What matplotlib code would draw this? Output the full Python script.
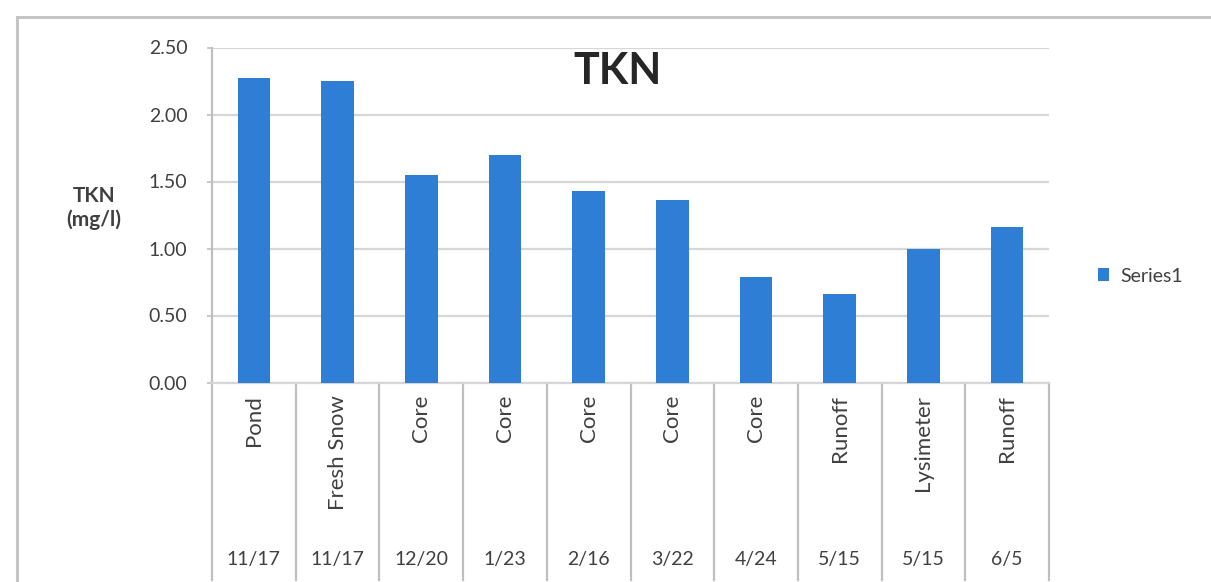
import matplotlib
matplotlib.use("Agg")
import matplotlib.pyplot as plt
from matplotlib.patches import Rectangle
import matplotlib.transforms as mtransforms

# Sample data: TKN concentration by sample type and date
sample_types = ["Pond", "Fresh Snow", "Core", "Core", "Core", "Core", "Core",
                "Runoff", "Lysimeter", "Runoff"]
sample_dates = ["11/17", "11/17", "12/20", "1/23", "2/16", "3/22", "4/24",
                "5/15", "5/15", "6/5"]
tkn_values = [2.27, 2.25, 1.55, 1.70, 1.43, 1.36, 0.79, 0.66, 1.00, 1.16]
y_ticks = [0.0, 0.5, 1.0, 1.5, 2.0, 2.5]
series_name = "Series1"

plt.rcParams["font.family"] = ["Lato", "DejaVu Sans"]

W, H = 1211, 582
fig = plt.figure(figsize=(W / 100, H / 100), dpi=100)
fig.patch.set_facecolor("white")

# outer chart frame (runs off the right and bottom edges)
frame = Rectangle((17 / W, -0.05), 1.2, 1 - 17 / H + 0.05, transform=fig.transFigure,
                  fill=False, edgecolor="#C4C4C4", linewidth=2.2, zorder=0)
fig.patches.append(frame)

left, right, top, bottom = 212, 1049, 47.5, 382.5
ax = fig.add_axes([left / W, 1 - bottom / H, (right - left) / W, (bottom - top) / H])

bar_color = "#2E7ED6"
x = list(range(len(tkn_values)))
bars = ax.bar(x, tkn_values, width=0.39, color=bar_color, zorder=3, label=series_name)

ax.set_xlim(-0.5, len(tkn_values) - 0.5)
ax.set_ylim(0, 2.5)
ax.set_yticks(y_ticks)
ax.set_yticklabels([f"{v:.2f}" for v in y_ticks])
ax.tick_params(axis="y", length=3.6, width=1.2, color="#BFBFBF", labelsize=14,
               labelcolor="#404040", pad=14)
ax.set_xticks([])
ax.grid(axis="y", color="#D6D6D6", linewidth=1.6, zorder=0)
for s in ["top", "right"]:
    ax.spines[s].set_visible(False)
ax.spines["left"].set_color("#BFBFBF")
ax.spines["left"].set_linewidth(1.6)
ax.spines["bottom"].set_color("#D6D6D6")
ax.spines["bottom"].set_linewidth(1.6)

# two-level category axis: separators, sample names and dates
trans = mtransforms.blended_transform_factory(ax.transData, ax.transAxes)
label_bottom = -(580 - bottom) / (bottom - top)
for b in range(len(tkn_values) + 1):
    ax.plot([b - 0.5, b - 0.5], [0, label_bottom], transform=trans, color="#BFBFBF",
            linewidth=1.6, clip_on=False, zorder=2)
name_y = -(395 - bottom) / (bottom - top)
date_y = -(559 - bottom) / (bottom - top)
for i, (name, date) in enumerate(zip(sample_types, sample_dates)):
    ax.text(i, name_y, name, transform=trans, rotation=90, ha="center", va="top",
            fontsize=16, color="#404040")
    ax.text(i, date_y, date, transform=trans, ha="center", va="center",
            fontsize=14, color="#404040")

ax.text(0.485, 0.93, "TKN", transform=ax.transAxes, ha="center", va="center",
        fontsize=31, fontweight="bold", color="#262626")

fig.text(94 / W, 1 - 208 / H, "TKN\n(mg/l)", ha="center", va="center",
         fontsize=15, fontweight="bold", color="#404040", linespacing=1.25)

fig.legend(handles=[bars], labels=[series_name], loc="center left",
           bbox_to_anchor=(1080 / W, 1 - 276 / H), frameon=False,
           handlelength=0.6, handleheight=0.6, handletextpad=0.6,
           fontsize=14, labelcolor="#404040")

fig.savefig("out.png", dpi=100, facecolor="white")
